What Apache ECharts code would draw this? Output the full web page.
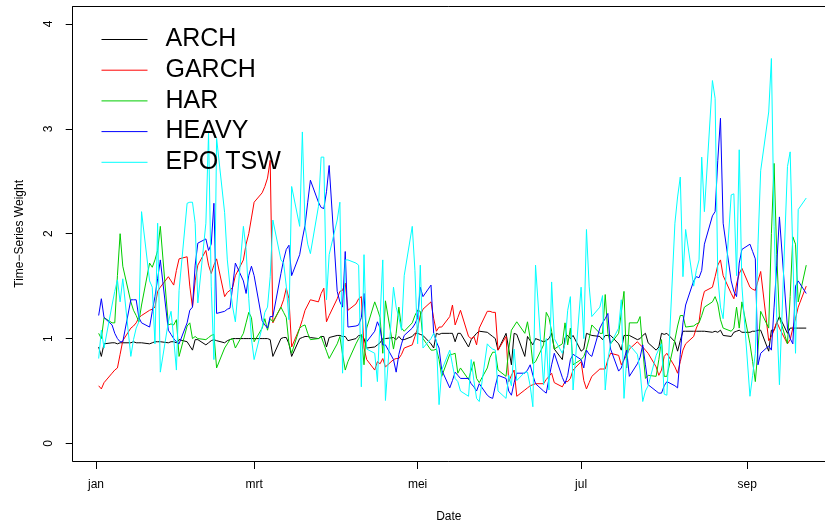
<!DOCTYPE html>
<html><head><meta charset="utf-8">
<script src="https://cdn.jsdelivr.net/npm/echarts@6/dist/echarts.min.js"></script>
<style>html,body{margin:0;padding:0;background:#fff}#c{width:825px;height:525px}</style>
</head><body><div id="c"></div>
<script>
const seriesNames = ['ARCH','GARCH','HAR','HEAVY','EPO TSW'];
const seriesColors = ['#000000','#ff0000','#00cd00','#0000ff','#00ffff'];
const monthLabels = ['jan','mrt','mei','jul','sep'];
const monthDays = [0,59,120,181,243];
const yTicks = [0,1,2,3,4];
const firstDate = '2013-01-02';
const lastDate = '2013-09-23';

const arch = [0.92,0.83,0.95,
0.96,0.96,0.95,0.96,0.96, 0.96,0.97,0.96,0.96,0.96, 0.95,0.96,0.97,0.97,0.97, 0.96,0.97,0.97,0.96,0.99,
0.97,0.93,0.89,0.99,0.99, 0.94,0.96,0.98,0.99,0.98, 0.96,0.98,0.99,1.00,1.00, 1.00,1.00,1.00,1.00,1.00,
1.00,1.00,1.00,0.99,0.83, 1.00,1.01,1.01,0.95,0.83, 1.00,1.01,1.02,1.02,1.01, 1.00,1.02,1.02,0.92,1.01,
1.03,1.03,1.02,1.02,0.98, 1.00,1.03,1.03,1.00,0.91, 0.92,0.94,0.96,1.00,1.00, 1.01,0.99,1.02,0.99,0.99,
1.02,1.05,1.05,1.04,1.03, 0.95,0.91,1.05,1.04,1.05, 1.05,1.05,0.97,1.05,1.05, 0.92,0.99,1.02,1.05,1.07,
1.06,1.04,1.02,1.00,0.89, 1.05,0.90,0.75,1.05,1.04, 0.83,1.02,0.98,0.94,1.00, 0.97,0.98,1.00,1.05,0.90,
0.80,1.01,1.03,1.00,1.03, 0.88,0.90,1.05,1.04,1.03, 1.02,0.99,1.03,1.03,1.03, 0.95,0.89,1.03,1.03,1.03,
0.99,1.00,1.03,1.05,0.96, 0.89,0.92,1.05,1.04,1.05, 0.97,0.88,0.98,1.07,1.07, 1.07,1.07,1.07,1.07,1.07,
1.06,1.07,1.06,1.08,1.03, 1.02,1.06,1.07,1.08,1.06, 1.06,1.07,1.07,1.08,1.08, 0.88,1.08,1.08,1.15,1.21,
1.05,1.10,1.10,1.10,1.10, 1.10];

const garch = [0.55,0.52,0.58,
0.67,0.70,0.72,0.85,0.98, 1.10,1.12,1.15,1.20,1.22, 1.27,1.28,1.30,1.45,1.49, 1.59,1.55,1.51,1.65,1.76,
1.78,1.50,1.30,1.55,1.70, 1.84,1.70,1.62,1.70,1.76, 1.40,1.44,1.46,1.49,1.60, 1.75,1.90,2.00,2.15,2.30,
2.39,2.45,2.53,2.70,1.15, 1.30,1.37,1.48,1.38,0.92, 1.10,1.18,1.27,1.32,1.37, 1.35,1.43,1.48,1.16,1.22,
1.38,1.45,1.46,1.53,1.27, 1.33,1.38,1.40,0.91,0.80, 0.70,0.78,0.76,0.81,0.73, 0.80,0.81,0.81,0.85,0.91,
0.94,1.02,1.10,1.22,1.28, 1.35,1.19,1.07,1.11,1.11, 1.21,1.32,1.13,1.20,1.27, 1.02,1.00,1.02,0.94,1.10,
1.26,1.26,1.25,1.25,0.89, 1.02,0.59,0.65,0.70,0.45, 0.51,0.53,0.55,0.56,0.57, 0.57,0.61,0.64,0.67,0.58,
0.54,0.59,0.59,0.62,0.70, 0.78,0.60,0.52,0.58,0.64, 0.71,0.71,0.71,0.80,0.86, 0.84,0.75,0.80,0.84,0.90,
0.97,0.94,0.92,0.89,0.86, 0.73,0.65,0.70,0.83,0.86, 0.73,0.67,0.78,0.89,0.95, 1.02,1.10,1.16,1.35,1.45,
1.49,1.59,1.70,1.75,1.60, 1.43,1.38,1.52,1.62,1.67, 1.49,1.47,1.46,1.55,1.64, 0.98,1.02,1.08,1.16,1.10,
0.95,0.99,1.10,1.19,1.30, 1.50];

const har = [1.05,1.00,1.20,
1.15,1.15,1.60,2.00,1.69, 1.35,1.27,1.22,1.16,1.32, 1.72,1.68,1.75,1.84,2.07, 1.13,1.14,1.13,1.18,0.83,
1.12,1.15,1.00,1.02,1.00, 0.99,1.01,1.03,1.04,0.72, 0.91,0.95,0.99,1.00,0.91, 1.05,1.15,1.25,1.20,0.97,
1.10,1.19,1.08,1.19,1.16, 1.30,1.25,1.20,0.95,0.86, 1.10,1.12,1.13,1.05,0.99, 1.00,1.02,0.95,0.88,0.81,
0.95,1.02,0.85,0.70,0.78, 0.95,1.00,1.04,0.75,1.10, 1.35,1.28,1.20,0.86,1.36, 0.90,1.05,1.30,1.10,1.07,
1.15,1.22,1.27,1.26,1.00, 0.89,0.89,0.90,0.80,0.64, 0.85,0.85,0.86,0.67,0.72, 0.61,0.70,0.78,0.62,0.58,
0.72,0.82,0.87,0.87,0.70, 0.64,0.90,1.08,1.12,1.16, 1.05,1.16,1.00,0.76,0.78, 0.94,1.25,1.20,1.07,0.90,
0.95,1.15,0.94,1.10,0.75, 0.80,0.83,0.90,1.00,1.13, 1.05,1.05,1.42,1.05,0.95, 1.05,1.25,1.45,0.72,1.15,
1.15,1.21,0.90,0.62,0.65, 0.64,0.80,0.99,0.64,0.64, 0.99,1.12,1.22,1.22,1.11, 1.12,1.14,1.15,1.22,1.30,
1.35,1.40,1.33,1.18,1.10, 1.07,1.10,1.30,1.10,1.35, 0.95,0.78,0.59,0.90,1.26, 1.10,2.00,2.67,1.80,1.20,
0.95,1.40,1.97,1.90,1.35, 1.70];

const heavy = [1.22,1.38,1.20,
1.13,1.05,1.00,0.97,0.97, 1.37,1.37,1.37,1.20,1.15, 1.11,1.26,1.40,1.57,1.75, 1.08,1.04,1.00,0.97,0.95,
1.15,1.27,1.30,1.70,1.91, 1.95,1.84,1.90,2.29,1.24, 1.26,1.28,1.29,1.50,1.72, 1.55,1.43,1.60,1.69,1.60,
1.17,1.13,1.10,1.21,1.21, 1.62,1.75,1.85,1.89,1.60, 1.80,1.95,2.08,2.30,2.51, 2.30,2.25,2.24,2.40,2.65,
1.45,1.35,1.30,1.83,1.11, 1.12,1.13,1.20,1.43,0.97, 1.07,1.16,1.10,0.94,0.94, 0.80,0.68,0.85,0.95,1.03,
1.10,1.14,1.20,1.49,1.40, 1.51,1.05,0.97,0.91,0.70, 0.53,0.60,0.68,0.65,0.62, 0.62,0.57,0.54,0.50,0.57,
0.46,0.44,0.43,0.55,0.65, 0.62,0.50,0.46,0.58,0.67, 0.67,0.70,0.75,0.65,0.57, 0.50,0.48,0.62,0.75,0.86,
0.63,0.57,0.65,0.80,0.85, 0.80,0.72,0.89,0.85,0.83, 1.10,1.15,1.19,1.24,0.90, 0.69,0.72,0.80,0.89,0.64,
0.76,0.82,0.94,0.75,0.56, 0.50,0.48,0.48,0.55,0.59, 0.55,0.53,0.85,1.15,1.32, 1.55,1.59,1.58,1.65,1.90,
2.17,2.21,2.70,3.10,2.10, 1.55,1.45,1.40,1.72,1.85, 1.90,1.83,1.76,0.75,0.86, 0.93,0.89,1.30,1.70,2.16,
1.10,1.00,0.95,1.50,1.55, 1.43];

const epoTsw = [0.81,1.08,0.91,
1.32,1.45,1.56,1.35,1.57, 0.83,0.99,1.10,1.16,2.21, 1.55,1.49,0.95,2.10,0.68, 1.16,1.26,1.00,0.70,1.46,
2.29,2.30,2.30,2.10,1.34, 2.10,2.96,1.50,0.80,2.91, 2.20,1.75,1.50,1.30,1.16, 2.07,1.85,1.38,1.00,0.80,
1.11,1.25,1.30,1.59,2.13, 1.75,1.72,1.50,1.18,2.45, 2.07,2.97,2.07,1.90,1.81, 2.26,2.73,2.73,1.37,1.80,
2.13,2.30,0.67,1.75,1.75, 1.72,1.70,0.54,1.80,0.90, 0.86,0.59,1.20,1.75,0.41, 1.49,1.30,1.20,1.08,1.60,
2.07,1.65,0.95,1.70,0.91, 1.00,1.05,0.98,0.37,0.70, 0.89,0.75,0.62,0.59,0.50, 0.45,0.80,0.60,0.43,0.40,
0.95,0.92,0.90,0.89,0.50, 0.43,0.65,0.55,0.90,0.60, 0.68,0.68,0.55,0.35,1.70, 0.56,1.00,0.51,1.54,1.00,
0.86,0.95,1.27,1.40,0.51, 1.49,1.00,2.04,1.50,1.21, 1.30,1.41,0.51,0.80,0.95, 1.10,1.37,0.43,0.80,0.94,
0.85,0.70,0.40,0.50,0.55, 0.84,0.90,0.95,0.47,0.46, 2.10,2.35,2.54,1.59,2.04, 1.50,1.65,1.75,2.73,2.21,
3.46,3.29,1.59,1.30,1.19, 2.37,2.38,1.60,2.80,1.50, 0.45,0.65,0.86,1.90,2.60, 3.16,3.67,2.07,1.20,0.56,
2.64,2.78,1.80,0.86,2.23, 2.34];

const allValues = [arch, garch, har, heavy, epoTsw];

// trading days (weekdays) between firstDate and lastDate, as day offsets from 1 January
const DAY = 86400000;
const yearStart = Date.UTC(2013, 0, 1);
const tradingDays = [];
for (let t = Date.parse(firstDate + 'T00:00:00Z'); t <= Date.parse(lastDate + 'T00:00:00Z'); t += DAY) {
  const wd = new Date(t).getUTCDay();
  if (wd !== 0 && wd !== 6) tradingDays.push((t - yearStart) / DAY);
}

const FONT = '"Liberation Sans", Arial, Helvetica, sans-serif';
const X_MIN = -8.69, X_MAX = 272.0;
const chart = echarts.init(document.getElementById('c'), null, {renderer: 'canvas'});
chart.setOption({
  animation: false,
  backgroundColor: '#ffffff',
  textStyle: {fontFamily: FONT},
  grid: {left: 72.7, right: 0, top: 6.7, bottom: 64, show: false, containLabel: false, outerBoundsMode: 'none'},
  legend: {
    left: 96, top: 22, orient: 'vertical', itemWidth: 46, itemHeight: 14, itemGap: 5.7,
    data: seriesNames,
    itemStyle: {opacity: 0},
    lineStyle: {width: 1},
    textStyle: {fontSize: 25, lineHeight: 25, color: '#000', fontFamily: FONT, padding: [0, 0, 0, 13]},
    selectedMode: false
  },
  xAxis: [{
    type: 'value', min: X_MIN, max: X_MAX, position: 'bottom',
    name: 'Date', nameLocation: 'middle', nameGap: 50,
    nameTextStyle: {fontSize: 12, color: '#000', fontFamily: FONT},
    axisLine: {show: true, onZero: false, lineStyle: {color: '#000', width: 1}},
    splitLine: {show: false},
    axisTick: {show: true, length: 8, customValues: monthDays, lineStyle: {color: '#000', width: 1}},
    axisLabel: {customValues: monthDays, margin: 18, fontSize: 12, color: '#000', fontFamily: FONT,
      formatter: v => monthLabels[monthDays.indexOf(v)]}
  }, {
    type: 'value', min: X_MIN, max: X_MAX, position: 'top',
    axisLine: {show: true, onZero: false, lineStyle: {color: '#000', width: 1}},
    axisTick: {show: false}, axisLabel: {show: false}, splitLine: {show: false}
  }],
  yAxis: {
    type: 'value', min: -0.167, max: 4.164,
    name: 'Time\u2212Series Weight', nameLocation: 'middle', nameGap: 47,
    nameTextStyle: {fontSize: 12, color: '#000', fontFamily: FONT},
    axisLine: {show: true, onZero: false, lineStyle: {color: '#000', width: 1}},
    splitLine: {show: false},
    axisTick: {show: true, length: 7, customValues: yTicks, lineStyle: {color: '#000', width: 1}},
    axisLabel: {customValues: yTicks, rotate: 90, margin: 18, fontSize: 12, color: '#000', fontFamily: FONT}
  },
  series: seriesNames.map((name, i) => ({
    name, type: 'line', symbol: 'none', showSymbol: false,
    xAxisIndex: 0,
    lineStyle: {color: seriesColors[i], width: 1},
    itemStyle: {color: seriesColors[i]},
    data: tradingDays.slice(0, allValues[i].length).map((d, k) => [d, allValues[i][k]])
  }))
});
</script>
</body></html>
